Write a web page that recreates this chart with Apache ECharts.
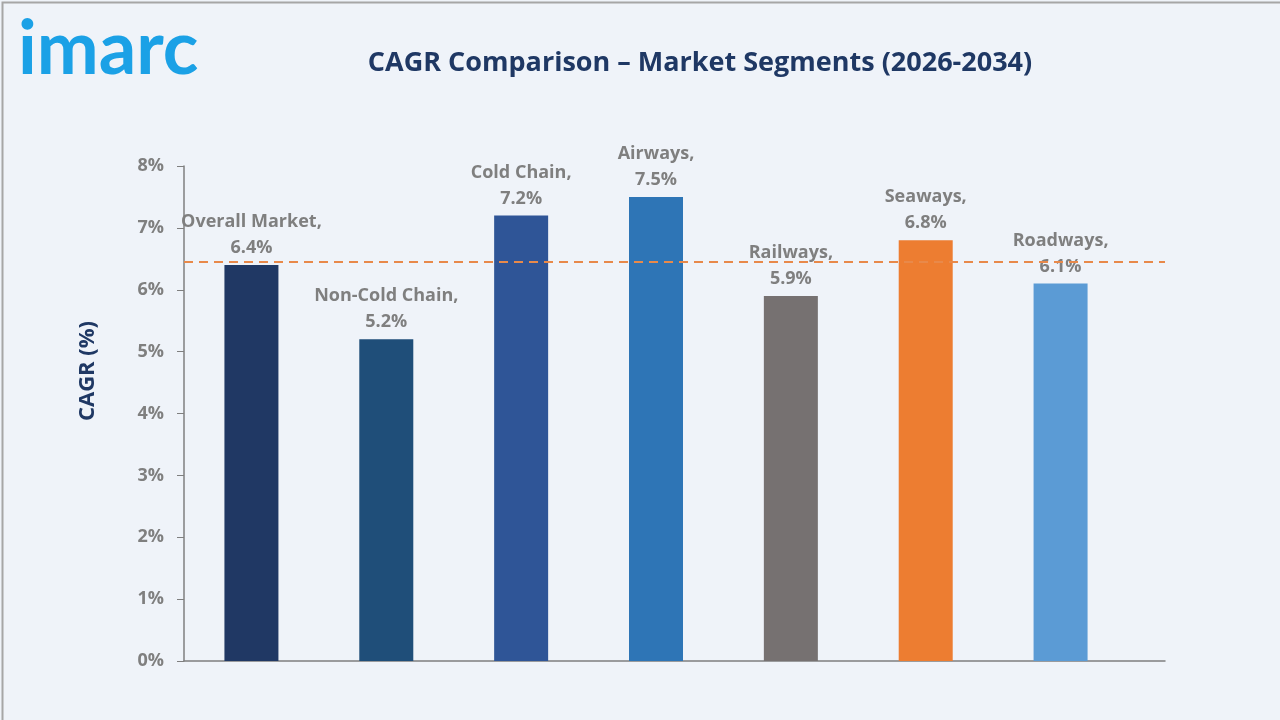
<!DOCTYPE html>
<html>
<head>
<meta charset="utf-8">
<script src="https://cdn.jsdelivr.net/npm/echarts@6/dist/echarts.min.js"></script>
<style>
html,body{margin:0;padding:0;background:#eef3f9;}
#c{width:1280px;height:720px;}
</style>
</head>
<body>
<div id="c"></div>
<script>
const categories = ["Overall Market", "Non-Cold Chain", "Cold Chain", "Airways", "Railways", "Seaways", "Roadways"];
const cagrValues = [6.4, 5.2, 7.2, 7.5, 5.9, 6.8, 6.1];
const barColors = ["#203864", "#1f4e79", "#2f5597", "#2e75b6", "#767171", "#ed7d31", "#5b9bd5"];
const referenceLine = 6.45;
const yTicks = [0, 1, 2, 3, 4, 5, 6, 7, 8];

const chart = echarts.init(document.getElementById('c'));
const font = '"Open Sans", "DejaVu Sans", sans-serif';
chart.setOption({
  backgroundColor: '#eff3f9',
  title: {
    text: 'CAGR Comparison – Market Segments (2026-2034)',
    left: 695, top: 45, textAlign: 'center',
    textStyle: {color: '#1f3864', fontSize: 27, fontWeight: 'bold', fontFamily: font}
  },
  graphic: [
    {type: 'rect', left: 0, top: 0, shape: {width: 1279, height: 719}, style: {fill: 'none', stroke: '#a6a6a6', lineWidth: 2}, silent: true},
    {type: 'text', left: 18, top: 13, style: {text: 'imarc', fill: '#1ba1e6', font: 'bold 74px "Lato","DejaVu Sans",sans-serif'}},
    {type: 'text', x: 88, y: 371, rotation: Math.PI / 2,
     style: {text: 'CAGR (%)', fill: '#1f3864', font: 'bold 22px "Open Sans","DejaVu Sans",sans-serif', align: 'center', verticalAlign: 'middle'}}
  ],
  grid: [
    {left: 184, right: 152, top: 166, bottom: 59, containLabel: false},
    {left: 184, right: 115, top: 166, bottom: 59, containLabel: false}
  ],
  xAxis: [{
    type: 'category', data: categories, gridIndex: 0,
    axisLine: {show: false},
    axisTick: {show: false},
    axisLabel: {show: false}
  }, {
    type: 'value', gridIndex: 1, min: 0, max: 1,
    axisLine: {show: true, lineStyle: {color: '#7f7f7f', width: 1.5}},
    axisTick: {show: false}, axisLabel: {show: false}, splitLine: {show: false}
  }],
  yAxis: [{
    type: 'value', min: 0, max: 8, interval: 1, gridIndex: 0,
    axisLine: {show: true, lineStyle: {color: '#7f7f7f', width: 1.5}},
    axisTick: {show: true, length: 7, lineStyle: {color: '#7f7f7f'}},
    splitLine: {show: false},
    axisLabel: {formatter: v => yTicks.includes(v) ? v + '%' : '', color: '#7f7f7f', fontSize: 18, fontWeight: 'bold', fontFamily: font, margin: 20}
  }, {
    type: 'value', min: 0, max: 8, interval: 1, gridIndex: 1, show: false
  }],
  series: [{
    type: 'bar', barWidth: 54, xAxisIndex: 0, yAxisIndex: 0,
    data: cagrValues.map((v, i) => ({value: v, itemStyle: {color: barColors[i]}})),
    label: {
      show: true, position: 'top', distance: 4,
      formatter: p => p.name + ',\n' + p.value.toFixed(1) + '%',
      color: '#7f7f7f', fontSize: 18, fontWeight: 'bold', fontFamily: font, lineHeight: 26
    }
  }, {
    type: 'line', xAxisIndex: 1, yAxisIndex: 1, data: [], symbol: 'none',
    markLine: {
      silent: true, symbol: 'none',
      label: {show: false},
      lineStyle: {color: '#e8894a', type: [9, 6], width: 2},
      data: [{yAxis: referenceLine}]
    }
  }]
});
</script>
</body>
</html>
